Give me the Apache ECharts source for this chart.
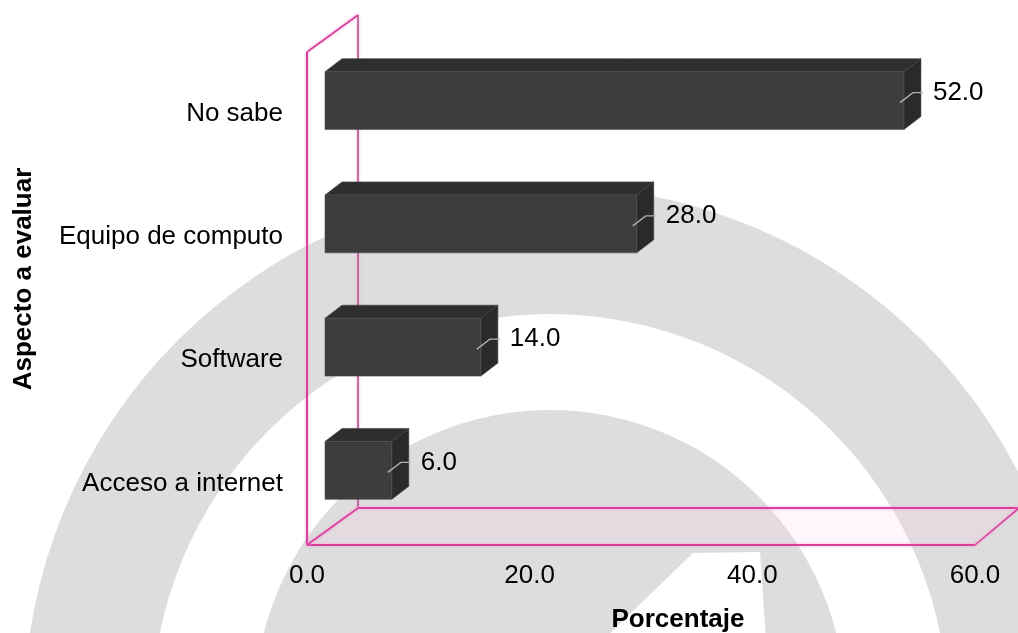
<!DOCTYPE html>
<html>
<head>
<meta charset="utf-8">
<script src="https://cdn.jsdelivr.net/npm/echarts@6/dist/echarts.min.js"></script>
<style>
  html, body { margin: 0; padding: 0; background: #ffffff; }
  #chart { width: 1018px; height: 633px; }
</style>
</head>
<body>
<div id="chart"></div>
<script>
// Survey results: share of answers per aspect (percent)
const categories = ['No sabe', 'Equipo de computo', 'Software', 'Acceso a internet'];
const values = [52.0, 28.0, 14.0, 6.0];
const axisMin = 0;
const axisMax = 60;
const axisStep = 20;

const FONT = '"Liberation Sans", Arial, sans-serif';
const chart = echarts.init(document.getElementById('chart'), null, { renderer: 'canvas' });

// depth of the box floor/wall and of each bar
const WALL_DX = 51, WALL_DY = -37;
const BAR_OX = 18, BAR_OY = -13;   // bar front face sits a bit inside the box
const BAR_DX = 17, BAR_DY = -13;   // bar thickness

function renderBar(params, api) {
  const v = api.value(0);
  const idx = api.value(1);
  const p0 = api.coord([0, idx]);
  const p1 = api.coord([v, idx]);
  const band = api.size([0, 1])[1];
  const h = band * 0.47;
  const x0 = p0[0] + BAR_OX;
  const x1 = p1[0] + BAR_OX;
  const yc = p0[1] + BAR_OY;
  const yT = yc - h / 2;
  const yB = yc + h / 2;
  return {
    type: 'group',
    children: [
      { type: 'polygon', shape: { points: [[x0, yT], [x0 + BAR_DX, yT + BAR_DY], [x1 + BAR_DX, yT + BAR_DY], [x1, yT]] },
        style: { fill: '#2e2e2e', stroke: '#444', lineWidth: 0.6 } },
      { type: 'polygon', shape: { points: [[x1, yT], [x1 + BAR_DX, yT + BAR_DY], [x1 + BAR_DX, yB + BAR_DY], [x1, yB]] },
        style: { fill: '#2a2a2a', stroke: '#404040', lineWidth: 0.6 } },
      { type: 'rect', shape: { x: x0, y: yT, width: x1 - x0, height: h },
        style: { fill: '#3d3d3d', stroke: '#505050', lineWidth: 0.6 } },
      { type: 'polyline', shape: { points: [[x1 - 4, yc + 2], [x1 + 9, yc - 8], [x1 + 19, yc - 8]] },
        style: { stroke: '#b0b0b0', lineWidth: 1.4, fill: null } },
      { type: 'text', style: { x: x1 + 29, y: yc - 8, text: v.toFixed(1), fill: '#000',
        font: '26px ' + FONT, align: 'left', verticalAlign: 'middle' } }
    ]
  };
}

const option = {
  animation: false,
  backgroundColor: '#ffffff',
  grid: { left: 307, right: 43, top: 52, bottom: 88, containLabel: false },
  xAxis: {
    type: 'value', min: axisMin, max: axisMax, interval: axisStep,
    axisLine: { show: false }, axisTick: { show: false }, splitLine: { show: false },
    axisLabel: { margin: 18, color: '#000', fontSize: 26, fontFamily: FONT,
      formatter: v => v.toFixed(1) }
  },
  yAxis: {
    type: 'category', data: categories, inverse: true,
    axisLine: { show: false }, axisTick: { show: false }, splitLine: { show: false },
    axisLabel: { margin: 24, color: '#000', fontSize: 26, fontFamily: FONT, padding: [8, 0, 0, 0] }
  },
  series: [{
    type: 'custom',
    renderItem: renderBar,
    encode: { x: 0, y: 1 },
    data: values.map((v, i) => [v, i]),
    z: 5
  }]
};
chart.setOption(option);

// box frame and faint background emblem, placed from the axis scales
const xL = chart.convertToPixel({ xAxisIndex: 0 }, axisMin);
const xR = chart.convertToPixel({ xAxisIndex: 0 }, axisMax);
const c0 = chart.convertToPixel({ yAxisIndex: 0 }, 0);
const c1 = chart.convertToPixel({ yAxisIndex: 0 }, 1);
const band = c1 - c0;
const yTop = c0 - band / 2;
const yBot = chart.convertToPixel({ yAxisIndex: 0 }, categories.length - 1) + band / 2;

const pink = '#d8409d';
const pinkBack = '#b4558f';
const glow = { shadowColor: 'rgba(255,150,210,0.9)', shadowBlur: 3 };
function seg(a, b, color, w, z) {
  return { type: 'line', z: z, silent: true,
    shape: { x1: a[0], y1: a[1], x2: b[0], y2: b[1] },
    style: Object.assign({ stroke: color, lineWidth: w }, glow) };
}

const RIGHT_DX = 44;
const gray = '#dddddd';
chart.setOption({
  graphic: [
    // background emblem
    { type: 'ring', z: -10, silent: true, shape: { cx: 550, cy: 712, r: 526, r0: 398 }, style: { fill: gray } },
    { type: 'circle', z: -10, silent: true, shape: { cx: 550, cy: 705, r: 295 }, style: { fill: gray } },
    { type: 'polygon', z: -9, silent: true, shape: { points: [[693, 553], [760, 552], [766, 640], [603, 640]] }, style: { fill: '#ffffff' } },
    // floor tint
    { type: 'polygon', z: -8, silent: true,
      shape: { points: [[xL, yBot], [xL + WALL_DX, yBot + WALL_DY], [xR + RIGHT_DX, yBot + WALL_DY], [xR, yBot]] },
      style: { fill: 'rgba(255,215,235,0.2)' } },
    // back wall edge and floor back edge
    seg([xL + WALL_DX, yTop + WALL_DY], [xL + WALL_DX, yBot + WALL_DY], pinkBack, 1.6, -5),
    seg([xL + WALL_DX, yBot + WALL_DY], [xR + RIGHT_DX + 5, yBot + WALL_DY], pink, 2, -5),
    // front edges
    seg([xL, yTop], [xL + WALL_DX, yTop + WALL_DY], pink, 1.6, -5),
    seg([xL, yTop], [xL, yBot], pink, 2, -5),
    seg([xL, yBot], [xR, yBot], pink, 2, -5),
    seg([xL, yBot], [xL + WALL_DX, yBot + WALL_DY], pink, 1.6, -5),
    seg([xR, yBot], [xR + RIGHT_DX, yBot + WALL_DY], pink, 1.6, -5),
    // axis titles
    { type: 'text', z: 10, x: 678, y: 620,
      style: { text: 'Porcentaje', fill: '#000', font: 'bold 26px ' + FONT, align: 'center', verticalAlign: 'middle' } },
    { type: 'text', z: 10, x: 24, y: 279, rotation: Math.PI / 2,
      style: { text: 'Aspecto a evaluar', fill: '#000', font: 'bold 26px ' + FONT, align: 'center', verticalAlign: 'middle' } }
  ]
});
</script>
</body>
</html>
